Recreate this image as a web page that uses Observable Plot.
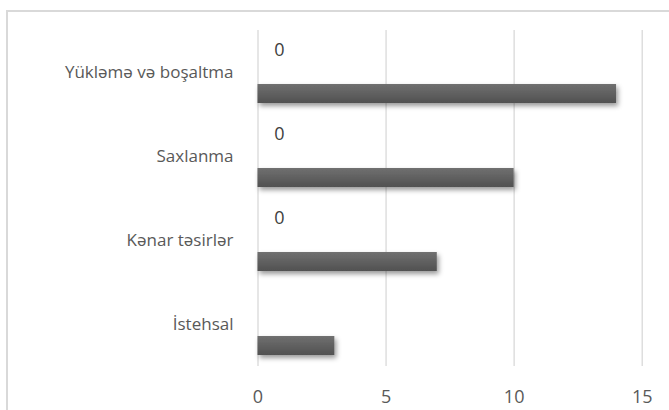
<!DOCTYPE html>
<html>
<head>
<meta charset="utf-8">
<script src="https://cdn.jsdelivr.net/npm/d3@7"></script>
<script src="https://cdn.jsdelivr.net/npm/@observablehq/plot@0.6"></script>
<style>
  html, body { margin: 0; padding: 0; background: #fff; }
  #wrap { position: relative; width: 669px; height: 410px; overflow: hidden; }
  #frame { position: absolute; left: 6px; top: 10px; width: 700px; height: 440px;
           border-top: 2px solid #d9d9d9; border-left: 2px solid #d9d9d9; box-sizing: border-box; }
  #wrap svg { position: absolute; left: 0; top: 0; }
</style>
</head>
<body>
<div id="wrap"><div id="frame"></div></div>
<script>
// Categories, top to bottom
const categories = ["Yükləmə və boşaltma", "Saxlanma", "Kənar təsirlər", "İstehsal"];
// Main series
const values = [14, 10, 7, 3];
// Second series (zero values, labelled; empty for the last category)
const zeroSeries = [0, 0, 0, null];
// X axis ticks
const xTicks = [0, 5, 10, 15];

const bars = categories.map((c, i) => ({category: c, value: values[i]}));
const zeros = categories
  .map((c, i) => ({category: c, value: zeroSeries[i]}))
  .filter(d => d.value !== null);

const font = "'Open Sans', sans-serif";

const chart = Plot.plot({
  width: 669,
  height: 410,
  marginLeft: 257.5,
  marginRight: 27.3,
  marginTop: 30,
  marginBottom: 44,
  style: {fontFamily: font, fontSize: "17px", color: "#595959", background: "transparent"},
  x: {domain: [0, 15], label: null},
  y: {domain: categories, padding: 0, label: null},
  marks: [
    Plot.gridX(xTicks, {stroke: "#d9d9d9", strokeOpacity: 1, strokeWidth: 1.3}),
    Plot.axisX(xTicks, {tickSize: 0, tickPadding: 24, fontSize: 18, fill: "#595959", label: null}),
    Plot.axisY({tickSize: 0, tickPadding: 24.5, fontSize: 17, fill: "#595959", label: null}),
    Plot.barX(bars, {
      x: "value", y: "category",
      insetTop: 54, insetBottom: 11,
      fill: "url(#barGrad)"
    }),
    Plot.text(zeros, {
      x: "value", y: "category", text: d => String(d.value),
      dx: 21.5, dy: -22, fill: "#404040", fontSize: 18, textAnchor: "middle"
    })
  ]
});

// Gradient and drop shadow used by the bars
const svg = d3.select(chart);
const defs = svg.insert("defs", ":first-child");
const grad = defs.append("linearGradient")
  .attr("id", "barGrad").attr("x1", 0).attr("y1", 0).attr("x2", 0).attr("y2", 1);
grad.append("stop").attr("offset", "0%").attr("stop-color", "#707070");
grad.append("stop").attr("offset", "100%").attr("stop-color", "#515151");
const filt = defs.append("filter").attr("id", "barShadow")
  .attr("x", "-10%").attr("y", "-40%").attr("width", "130%").attr("height", "200%");
filt.append("feDropShadow")
  .attr("dx", 2).attr("dy", 3).attr("stdDeviation", 2.5)
  .attr("flood-color", "#000").attr("flood-opacity", 0.4);
svg.selectAll("g[aria-label='bar'] rect").attr("filter", "url(#barShadow)");

document.getElementById("wrap").appendChild(chart);
</script>
</body>
</html>
